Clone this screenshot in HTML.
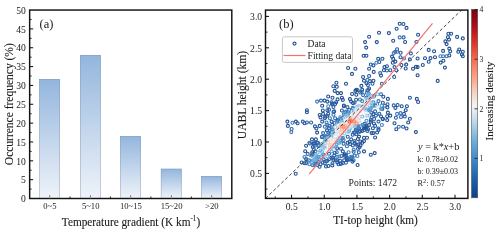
<!DOCTYPE html><html><head><meta charset="utf-8"><style>html,body{margin:0;padding:0;background:#fff;overflow:hidden}svg{display:block;will-change:transform}text{font-family:"Liberation Serif",serif;fill:#1a1a1a}.s{stroke:#1a1a1a;stroke-width:0.1px}</style></head><body>
<svg width="500" height="234" viewBox="0 0 500 234">
<defs>
<linearGradient id="bg" x1="0" y1="0" x2="0" y2="1"><stop offset="0" stop-color="#93b6dd"/><stop offset="1" stop-color="#eff3fa"/></linearGradient>
<linearGradient id="bs" x1="0" y1="0" x2="0" y2="1"><stop offset="0" stop-color="#7896bd"/><stop offset="1" stop-color="#b4bac4"/></linearGradient>
<linearGradient id="cb" x1="0" y1="1" x2="0" y2="0"><stop offset="0.000" stop-color="#0b3f8c"/><stop offset="0.094" stop-color="#1a5fab"/><stop offset="0.200" stop-color="#3a88cc"/><stop offset="0.300" stop-color="#6aaedc"/><stop offset="0.370" stop-color="#a0cce6"/><stop offset="0.430" stop-color="#cfe1f0"/><stop offset="0.490" stop-color="#f4f2f2"/><stop offset="0.560" stop-color="#f9d0c0"/><stop offset="0.630" stop-color="#fba888"/><stop offset="0.710" stop-color="#f87a5a"/><stop offset="0.785" stop-color="#ec4a35"/><stop offset="0.860" stop-color="#d0201f"/><stop offset="0.930" stop-color="#a00a18"/><stop offset="1.000" stop-color="#780010"/></linearGradient>
</defs>
<rect x="39.60" y="79.40" width="20.05" height="119.10" fill="url(#bg)" stroke="url(#bs)" stroke-width="0.7"/>
<rect x="80.40" y="55.30" width="19.95" height="143.20" fill="url(#bg)" stroke="url(#bs)" stroke-width="0.7"/>
<rect x="120.50" y="136.45" width="20.05" height="62.05" fill="url(#bg)" stroke="url(#bs)" stroke-width="0.7"/>
<rect x="161.20" y="169.05" width="20.10" height="29.45" fill="url(#bg)" stroke="url(#bs)" stroke-width="0.7"/>
<rect x="201.50" y="176.45" width="20.05" height="22.05" fill="url(#bg)" stroke="url(#bs)" stroke-width="0.7"/>
<rect x="29.65" y="10.05" width="202.15" height="188.45" fill="none" stroke="#111" stroke-width="1.45"/>
<text x="25.9" y="202.25" font-size="9.60" text-anchor="end">0</text>
<line x1="29.65" y1="189.08" x2="31.65" y2="189.08" stroke="#111" stroke-width="0.9"/>
<line x1="29.65" y1="179.66" x2="33.15" y2="179.66" stroke="#111" stroke-width="1.05"/>
<text x="25.9" y="183.41" font-size="9.60" text-anchor="end">5</text>
<line x1="29.65" y1="170.23" x2="31.65" y2="170.23" stroke="#111" stroke-width="0.9"/>
<line x1="29.65" y1="160.81" x2="33.15" y2="160.81" stroke="#111" stroke-width="1.05"/>
<text x="25.9" y="164.56" font-size="9.60" text-anchor="end">10</text>
<line x1="29.65" y1="151.39" x2="31.65" y2="151.39" stroke="#111" stroke-width="0.9"/>
<line x1="29.65" y1="141.97" x2="33.15" y2="141.97" stroke="#111" stroke-width="1.05"/>
<text x="25.9" y="145.72" font-size="9.60" text-anchor="end">15</text>
<line x1="29.65" y1="132.54" x2="31.65" y2="132.54" stroke="#111" stroke-width="0.9"/>
<line x1="29.65" y1="123.12" x2="33.15" y2="123.12" stroke="#111" stroke-width="1.05"/>
<text x="25.9" y="126.87" font-size="9.60" text-anchor="end">20</text>
<line x1="29.65" y1="113.70" x2="31.65" y2="113.70" stroke="#111" stroke-width="0.9"/>
<line x1="29.65" y1="104.28" x2="33.15" y2="104.28" stroke="#111" stroke-width="1.05"/>
<text x="25.9" y="108.03" font-size="9.60" text-anchor="end">25</text>
<line x1="29.65" y1="94.85" x2="31.65" y2="94.85" stroke="#111" stroke-width="0.9"/>
<line x1="29.65" y1="85.43" x2="33.15" y2="85.43" stroke="#111" stroke-width="1.05"/>
<text x="25.9" y="89.18" font-size="9.60" text-anchor="end">30</text>
<line x1="29.65" y1="76.01" x2="31.65" y2="76.01" stroke="#111" stroke-width="0.9"/>
<line x1="29.65" y1="66.59" x2="33.15" y2="66.59" stroke="#111" stroke-width="1.05"/>
<text x="25.9" y="70.34" font-size="9.60" text-anchor="end">35</text>
<line x1="29.65" y1="57.16" x2="31.65" y2="57.16" stroke="#111" stroke-width="0.9"/>
<line x1="29.65" y1="47.74" x2="33.15" y2="47.74" stroke="#111" stroke-width="1.05"/>
<text x="25.9" y="51.49" font-size="9.60" text-anchor="end">40</text>
<line x1="29.65" y1="38.32" x2="31.65" y2="38.32" stroke="#111" stroke-width="0.9"/>
<line x1="29.65" y1="28.90" x2="33.15" y2="28.90" stroke="#111" stroke-width="1.05"/>
<text x="25.9" y="32.65" font-size="9.60" text-anchor="end">45</text>
<line x1="29.65" y1="19.47" x2="31.65" y2="19.47" stroke="#111" stroke-width="0.9"/>
<text x="25.9" y="13.80" font-size="9.60" text-anchor="end">50</text>
<line x1="49.73" y1="198.50" x2="49.73" y2="195.00" stroke="#808080" stroke-width="0.95"/>
<text x="49.92" y="208.7" font-size="8.6" text-anchor="middle">0~5</text>
<line x1="70.00" y1="198.50" x2="70.00" y2="196.50" stroke="#111" stroke-width="0.9"/>
<line x1="90.47" y1="198.50" x2="90.47" y2="195.00" stroke="#808080" stroke-width="0.95"/>
<text x="90.67" y="208.7" font-size="8.6" text-anchor="middle">5~10</text>
<line x1="110.45" y1="198.50" x2="110.45" y2="196.50" stroke="#111" stroke-width="0.9"/>
<line x1="130.62" y1="198.50" x2="130.62" y2="195.00" stroke="#808080" stroke-width="0.95"/>
<text x="130.83" y="208.7" font-size="8.6" text-anchor="middle">10~15</text>
<line x1="150.89" y1="198.50" x2="150.89" y2="196.50" stroke="#111" stroke-width="0.9"/>
<line x1="171.35" y1="198.50" x2="171.35" y2="195.00" stroke="#808080" stroke-width="0.95"/>
<text x="171.55" y="208.7" font-size="8.6" text-anchor="middle">15~20</text>
<line x1="191.39" y1="198.50" x2="191.39" y2="196.50" stroke="#111" stroke-width="0.9"/>
<line x1="211.62" y1="198.50" x2="211.62" y2="195.00" stroke="#808080" stroke-width="0.95"/>
<text x="211.83" y="208.7" font-size="8.6" text-anchor="middle">&gt;20</text>
<text transform="translate(39.5,28.4) scale(1,1.08)" font-size="12.5">(a)</text>
<text class="s" transform="translate(13.1,104.2) rotate(-90)" font-size="11.5" text-anchor="middle">Occurrence frequency (%)</text>
<text class="s" transform="translate(131,226) scale(1,1.08)" font-size="11.3" text-anchor="middle">Temperature gradient (K km<tspan font-size="7.2" dy="-4.2">-1</tspan><tspan dy="4.2">)</tspan></text>
<circle cx="306.1" cy="145.7" r="1.5" fill="none" stroke="#1f4f91" stroke-width="1.1"/>
<circle cx="399.7" cy="23.7" r="1.5" fill="none" stroke="#1f4f91" stroke-width="1.1"/>
<circle cx="406.5" cy="27.9" r="1.5" fill="none" stroke="#1f4f91" stroke-width="1.1"/>
<circle cx="348.1" cy="68.0" r="1.5" fill="none" stroke="#1f4f91" stroke-width="1.1"/>
<circle cx="373.4" cy="65.4" r="1.5" fill="none" stroke="#1f4f91" stroke-width="1.1"/>
<circle cx="336.8" cy="86.8" r="1.5" fill="none" stroke="#1f4f91" stroke-width="1.1"/>
<circle cx="305.2" cy="151.3" r="1.5" fill="none" stroke="#1f4f91" stroke-width="1.1"/>
<circle cx="360.1" cy="131.5" r="1.5" fill="none" stroke="#1f4f91" stroke-width="1.1"/>
<circle cx="363.6" cy="55.7" r="1.5" fill="none" stroke="#1f4f91" stroke-width="1.1"/>
<circle cx="418.1" cy="34.8" r="1.5" fill="none" stroke="#1f4f91" stroke-width="1.1"/>
<circle cx="382.4" cy="58.7" r="1.5" fill="none" stroke="#1f4f91" stroke-width="1.1"/>
<circle cx="378.2" cy="58.7" r="1.5" fill="none" stroke="#1f4f91" stroke-width="1.1"/>
<circle cx="393.2" cy="40.8" r="1.5" fill="none" stroke="#1f4f91" stroke-width="1.1"/>
<circle cx="388.9" cy="33.1" r="1.5" fill="none" stroke="#1f4f91" stroke-width="1.1"/>
<circle cx="446.6" cy="44.1" r="1.5" fill="none" stroke="#1f4f91" stroke-width="1.1"/>
<circle cx="445.4" cy="41.4" r="1.5" fill="none" stroke="#1f4f91" stroke-width="1.1"/>
<circle cx="364.0" cy="141.1" r="1.5" fill="none" stroke="#1f4f91" stroke-width="1.1"/>
<circle cx="364.0" cy="151.4" r="1.5" fill="none" stroke="#1f4f91" stroke-width="1.1"/>
<circle cx="371.6" cy="133.1" r="1.5" fill="none" stroke="#1f4f91" stroke-width="1.1"/>
<circle cx="370.8" cy="154.8" r="1.5" fill="none" stroke="#1f4f91" stroke-width="1.1"/>
<circle cx="337.6" cy="93.1" r="1.5" fill="none" stroke="#1f4f91" stroke-width="1.1"/>
<circle cx="328.2" cy="96.5" r="1.5" fill="none" stroke="#1f4f91" stroke-width="1.1"/>
<circle cx="332.5" cy="97.7" r="1.5" fill="none" stroke="#1f4f91" stroke-width="1.1"/>
<circle cx="334.7" cy="90.9" r="1.5" fill="none" stroke="#1f4f91" stroke-width="1.1"/>
<circle cx="440.7" cy="62.6" r="1.5" fill="none" stroke="#1f4f91" stroke-width="1.1"/>
<circle cx="364.0" cy="137.7" r="1.5" fill="none" stroke="#1f4f91" stroke-width="1.1"/>
<circle cx="328.3" cy="166.0" r="1.5" fill="none" stroke="#1f4f91" stroke-width="1.1"/>
<circle cx="317.1" cy="132.6" r="1.5" fill="none" stroke="#1f4f91" stroke-width="1.1"/>
<circle cx="319.7" cy="125.9" r="1.5" fill="none" stroke="#1f4f91" stroke-width="1.1"/>
<circle cx="343.9" cy="106.2" r="1.5" fill="none" stroke="#1f4f91" stroke-width="1.1"/>
<circle cx="322.2" cy="105.7" r="1.5" fill="none" stroke="#1f4f91" stroke-width="1.1"/>
<circle cx="341.9" cy="97.7" r="1.5" fill="none" stroke="#1f4f91" stroke-width="1.1"/>
<circle cx="344.2" cy="160.3" r="1.5" fill="none" stroke="#1f4f91" stroke-width="1.1"/>
<circle cx="347.6" cy="142.8" r="1.5" fill="none" stroke="#1f4f91" stroke-width="1.1"/>
<circle cx="387.9" cy="112.6" r="1.5" fill="none" stroke="#1f4f91" stroke-width="1.1"/>
<circle cx="406.5" cy="128.5" r="1.5" fill="none" stroke="#1f4f91" stroke-width="1.1"/>
<circle cx="416.8" cy="98.9" r="1.5" fill="none" stroke="#1f4f91" stroke-width="1.1"/>
<circle cx="287.9" cy="125.9" r="1.5" fill="none" stroke="#1f4f91" stroke-width="1.1"/>
<circle cx="415.9" cy="132.1" r="1.5" fill="none" stroke="#1f4f91" stroke-width="1.1"/>
<circle cx="349.9" cy="99.1" r="1.5" fill="none" stroke="#1f4f91" stroke-width="1.1"/>
<circle cx="387.9" cy="98.9" r="1.5" fill="none" stroke="#1f4f91" stroke-width="1.1"/>
<circle cx="370.9" cy="121.6" r="1.5" fill="none" stroke="#1f4f91" stroke-width="1.1"/>
<circle cx="357.6" cy="165.0" r="1.5" fill="none" stroke="#1f4f91" stroke-width="1.1"/>
<circle cx="394.5" cy="123.3" r="1.5" fill="none" stroke="#1f4f91" stroke-width="1.1"/>
<circle cx="390.3" cy="115.6" r="1.5" fill="none" stroke="#1f4f91" stroke-width="1.1"/>
<circle cx="408.2" cy="122.5" r="1.5" fill="none" stroke="#1f4f91" stroke-width="1.1"/>
<circle cx="406.9" cy="106.2" r="1.5" fill="none" stroke="#1f4f91" stroke-width="1.1"/>
<circle cx="405.7" cy="110.2" r="1.5" fill="none" stroke="#1f4f91" stroke-width="1.1"/>
<circle cx="344.8" cy="154.3" r="1.5" fill="none" stroke="#1f4f91" stroke-width="1.1"/>
<circle cx="355.4" cy="90.9" r="1.5" fill="none" stroke="#1f4f91" stroke-width="1.1"/>
<circle cx="344.5" cy="155.6" r="1.5" fill="none" stroke="#1f4f91" stroke-width="1.1"/>
<circle cx="356.3" cy="94.8" r="1.5" fill="none" stroke="#1f4f91" stroke-width="1.1"/>
<circle cx="362.2" cy="142.7" r="1.5" fill="none" stroke="#1f4f91" stroke-width="1.1"/>
<circle cx="352.1" cy="94.0" r="1.5" fill="none" stroke="#1f4f91" stroke-width="1.1"/>
<circle cx="382.7" cy="118.7" r="1.5" fill="none" stroke="#1f4f91" stroke-width="1.1"/>
<circle cx="354.6" cy="143.0" r="1.5" fill="none" stroke="#1f4f91" stroke-width="1.1"/>
<circle cx="413.0" cy="68.8" r="1.5" fill="none" stroke="#1f4f91" stroke-width="1.1"/>
<circle cx="415.9" cy="66.8" r="1.5" fill="none" stroke="#1f4f91" stroke-width="1.1"/>
<circle cx="358.9" cy="131.7" r="1.5" fill="none" stroke="#1f4f91" stroke-width="1.1"/>
<circle cx="417.6" cy="75.3" r="1.5" fill="none" stroke="#1f4f91" stroke-width="1.1"/>
<circle cx="364.0" cy="80.8" r="1.5" fill="none" stroke="#1f4f91" stroke-width="1.1"/>
<circle cx="425.0" cy="58.2" r="1.5" fill="none" stroke="#1f4f91" stroke-width="1.1"/>
<circle cx="417.6" cy="58.5" r="1.5" fill="none" stroke="#1f4f91" stroke-width="1.1"/>
<circle cx="332.0" cy="103.5" r="1.5" fill="none" stroke="#1f4f91" stroke-width="1.1"/>
<circle cx="373.4" cy="80.8" r="1.5" fill="none" stroke="#1f4f91" stroke-width="1.1"/>
<circle cx="361.4" cy="85.9" r="1.5" fill="none" stroke="#1f4f91" stroke-width="1.1"/>
<circle cx="373.4" cy="133.0" r="1.5" fill="none" stroke="#1f4f91" stroke-width="1.1"/>
<circle cx="356.3" cy="89.7" r="1.5" fill="none" stroke="#1f4f91" stroke-width="1.1"/>
<circle cx="357.6" cy="90.2" r="1.5" fill="none" stroke="#1f4f91" stroke-width="1.1"/>
<circle cx="449.3" cy="48.6" r="1.5" fill="none" stroke="#1f4f91" stroke-width="1.1"/>
<circle cx="434.1" cy="51.3" r="1.5" fill="none" stroke="#1f4f91" stroke-width="1.1"/>
<circle cx="369.9" cy="81.1" r="1.5" fill="none" stroke="#1f4f91" stroke-width="1.1"/>
<circle cx="459.2" cy="49.5" r="1.5" fill="none" stroke="#1f4f91" stroke-width="1.1"/>
<circle cx="458.3" cy="51.7" r="1.5" fill="none" stroke="#1f4f91" stroke-width="1.1"/>
<circle cx="462.8" cy="51.7" r="1.5" fill="none" stroke="#1f4f91" stroke-width="1.1"/>
<circle cx="373.9" cy="123.5" r="1.5" fill="none" stroke="#1f4f91" stroke-width="1.1"/>
<circle cx="329.0" cy="159.3" r="1.5" fill="none" stroke="#1f4f91" stroke-width="1.1"/>
<circle cx="376.8" cy="42.1" r="1.5" fill="none" stroke="#1f4f91" stroke-width="1.1"/>
<circle cx="395.4" cy="61.6" r="1.5" fill="none" stroke="#204f91" stroke-width="1.1"/>
<circle cx="396.3" cy="129.3" r="1.5" fill="none" stroke="#204f91" stroke-width="1.1"/>
<circle cx="321.9" cy="136.9" r="1.5" fill="none" stroke="#204f91" stroke-width="1.1"/>
<circle cx="341.0" cy="93.1" r="1.5" fill="none" stroke="#204f91" stroke-width="1.1"/>
<circle cx="443.4" cy="60.8" r="1.5" fill="none" stroke="#204f91" stroke-width="1.1"/>
<circle cx="462.8" cy="38.4" r="1.5" fill="none" stroke="#204f91" stroke-width="1.1"/>
<circle cx="417.6" cy="67.1" r="1.5" fill="none" stroke="#204f91" stroke-width="1.1"/>
<circle cx="320.5" cy="117.4" r="1.5" fill="none" stroke="#204f91" stroke-width="1.1"/>
<circle cx="373.3" cy="114.1" r="1.5" fill="none" stroke="#204f91" stroke-width="1.1"/>
<circle cx="377.1" cy="132.5" r="1.5" fill="none" stroke="#204f91" stroke-width="1.1"/>
<circle cx="366.4" cy="55.7" r="1.5" fill="none" stroke="#204f91" stroke-width="1.1"/>
<circle cx="327.4" cy="101.6" r="1.5" fill="none" stroke="#204f91" stroke-width="1.1"/>
<circle cx="297.6" cy="123.3" r="1.5" fill="none" stroke="#204f91" stroke-width="1.1"/>
<circle cx="448.4" cy="33.7" r="1.5" fill="none" stroke="#204f92" stroke-width="1.1"/>
<circle cx="382.8" cy="119.1" r="1.5" fill="none" stroke="#204f92" stroke-width="1.1"/>
<circle cx="353.0" cy="103.1" r="1.5" fill="none" stroke="#205092" stroke-width="1.1"/>
<circle cx="422.8" cy="65.0" r="1.5" fill="none" stroke="#205092" stroke-width="1.1"/>
<circle cx="387.2" cy="116.2" r="1.5" fill="none" stroke="#205092" stroke-width="1.1"/>
<circle cx="374.7" cy="153.1" r="1.5" fill="none" stroke="#205092" stroke-width="1.1"/>
<circle cx="461.9" cy="54.5" r="1.5" fill="none" stroke="#205092" stroke-width="1.1"/>
<circle cx="392.8" cy="62.8" r="1.5" fill="none" stroke="#205092" stroke-width="1.1"/>
<circle cx="447.9" cy="37.3" r="1.5" fill="none" stroke="#205092" stroke-width="1.1"/>
<circle cx="443.1" cy="50.9" r="1.5" fill="none" stroke="#205092" stroke-width="1.1"/>
<circle cx="435.0" cy="57.2" r="1.5" fill="none" stroke="#205092" stroke-width="1.1"/>
<circle cx="343.9" cy="105.5" r="1.5" fill="none" stroke="#205092" stroke-width="1.1"/>
<circle cx="384.5" cy="67.1" r="1.5" fill="none" stroke="#205092" stroke-width="1.1"/>
<circle cx="363.1" cy="77.0" r="1.5" fill="none" stroke="#205092" stroke-width="1.1"/>
<circle cx="287.4" cy="121.6" r="1.5" fill="none" stroke="#205092" stroke-width="1.1"/>
<circle cx="367.0" cy="137.8" r="1.5" fill="none" stroke="#205092" stroke-width="1.1"/>
<circle cx="342.8" cy="99.9" r="1.5" fill="none" stroke="#205092" stroke-width="1.1"/>
<circle cx="449.3" cy="55.4" r="1.5" fill="none" stroke="#205093" stroke-width="1.1"/>
<circle cx="406.2" cy="64.5" r="1.5" fill="none" stroke="#205093" stroke-width="1.1"/>
<circle cx="381.0" cy="116.5" r="1.5" fill="none" stroke="#205093" stroke-width="1.1"/>
<circle cx="403.4" cy="24.0" r="1.5" fill="none" stroke="#205093" stroke-width="1.1"/>
<circle cx="312.0" cy="139.4" r="1.5" fill="none" stroke="#205093" stroke-width="1.1"/>
<circle cx="360.4" cy="141.5" r="1.5" fill="none" stroke="#205093" stroke-width="1.1"/>
<circle cx="333.1" cy="157.7" r="1.5" fill="none" stroke="#205093" stroke-width="1.1"/>
<circle cx="401.7" cy="106.2" r="1.5" fill="none" stroke="#205093" stroke-width="1.1"/>
<circle cx="416.4" cy="42.0" r="1.5" fill="none" stroke="#205093" stroke-width="1.1"/>
<circle cx="346.0" cy="83.8" r="1.5" fill="none" stroke="#205093" stroke-width="1.1"/>
<circle cx="379.0" cy="32.7" r="1.5" fill="none" stroke="#205093" stroke-width="1.1"/>
<circle cx="409.9" cy="97.7" r="1.5" fill="none" stroke="#205093" stroke-width="1.1"/>
<circle cx="395.4" cy="107.9" r="1.5" fill="none" stroke="#205193" stroke-width="1.1"/>
<circle cx="387.4" cy="107.4" r="1.5" fill="none" stroke="#205193" stroke-width="1.1"/>
<circle cx="359.0" cy="136.6" r="1.5" fill="none" stroke="#205193" stroke-width="1.1"/>
<circle cx="405.1" cy="42.0" r="1.5" fill="none" stroke="#205193" stroke-width="1.1"/>
<circle cx="315.3" cy="143.4" r="1.5" fill="none" stroke="#205193" stroke-width="1.1"/>
<circle cx="355.4" cy="68.8" r="1.5" fill="none" stroke="#205194" stroke-width="1.1"/>
<circle cx="322.8" cy="110.5" r="1.5" fill="none" stroke="#215194" stroke-width="1.1"/>
<circle cx="364.3" cy="125.9" r="1.5" fill="none" stroke="#215194" stroke-width="1.1"/>
<circle cx="437.7" cy="80.9" r="1.5" fill="none" stroke="#215194" stroke-width="1.1"/>
<circle cx="351.1" cy="101.6" r="1.5" fill="none" stroke="#215194" stroke-width="1.1"/>
<circle cx="396.6" cy="28.8" r="1.5" fill="none" stroke="#215194" stroke-width="1.1"/>
<circle cx="428.7" cy="49.9" r="1.5" fill="none" stroke="#215194" stroke-width="1.1"/>
<circle cx="428.7" cy="61.7" r="1.5" fill="none" stroke="#215194" stroke-width="1.1"/>
<circle cx="349.6" cy="141.8" r="1.5" fill="none" stroke="#215194" stroke-width="1.1"/>
<circle cx="457.1" cy="36.9" r="1.5" fill="none" stroke="#215194" stroke-width="1.1"/>
<circle cx="352.0" cy="73.9" r="1.5" fill="none" stroke="#215194" stroke-width="1.1"/>
<circle cx="327.0" cy="130.4" r="1.5" fill="none" stroke="#215194" stroke-width="1.1"/>
<circle cx="392.0" cy="56.6" r="1.5" fill="none" stroke="#215194" stroke-width="1.1"/>
<circle cx="360.5" cy="145.4" r="1.5" fill="none" stroke="#215194" stroke-width="1.1"/>
<circle cx="444.9" cy="67.6" r="1.5" fill="none" stroke="#215194" stroke-width="1.1"/>
<circle cx="350.1" cy="144.0" r="1.5" fill="none" stroke="#215194" stroke-width="1.1"/>
<circle cx="315.0" cy="126.4" r="1.5" fill="none" stroke="#215294" stroke-width="1.1"/>
<circle cx="366.2" cy="47.6" r="1.5" fill="none" stroke="#215294" stroke-width="1.1"/>
<circle cx="373.7" cy="71.9" r="1.5" fill="none" stroke="#215295" stroke-width="1.1"/>
<circle cx="450.2" cy="51.3" r="1.5" fill="none" stroke="#215295" stroke-width="1.1"/>
<circle cx="462.8" cy="56.3" r="1.5" fill="none" stroke="#215295" stroke-width="1.1"/>
<circle cx="323.1" cy="113.9" r="1.5" fill="none" stroke="#215295" stroke-width="1.1"/>
<circle cx="449.0" cy="39.6" r="1.5" fill="none" stroke="#215295" stroke-width="1.1"/>
<circle cx="400.5" cy="57.2" r="1.5" fill="none" stroke="#215295" stroke-width="1.1"/>
<circle cx="362.2" cy="89.7" r="1.5" fill="none" stroke="#215295" stroke-width="1.1"/>
<circle cx="366.5" cy="83.3" r="1.5" fill="none" stroke="#215295" stroke-width="1.1"/>
<circle cx="333.4" cy="159.9" r="1.5" fill="none" stroke="#215295" stroke-width="1.1"/>
<circle cx="397.6" cy="105.0" r="1.5" fill="none" stroke="#215295" stroke-width="1.1"/>
<circle cx="379.2" cy="113.7" r="1.5" fill="none" stroke="#215295" stroke-width="1.1"/>
<circle cx="383.3" cy="96.8" r="1.5" fill="none" stroke="#215295" stroke-width="1.1"/>
<circle cx="418.1" cy="102.0" r="1.5" fill="none" stroke="#215295" stroke-width="1.1"/>
<circle cx="304.5" cy="123.3" r="1.5" fill="none" stroke="#215296" stroke-width="1.1"/>
<circle cx="325.3" cy="116.7" r="1.5" fill="none" stroke="#215396" stroke-width="1.1"/>
<circle cx="409.9" cy="118.7" r="1.5" fill="none" stroke="#215396" stroke-width="1.1"/>
<circle cx="369.0" cy="125.0" r="1.5" fill="none" stroke="#215396" stroke-width="1.1"/>
<circle cx="332.2" cy="104.2" r="1.5" fill="none" stroke="#215396" stroke-width="1.1"/>
<circle cx="401.4" cy="65.0" r="1.5" fill="none" stroke="#215396" stroke-width="1.1"/>
<circle cx="451.1" cy="33.7" r="1.5" fill="none" stroke="#215396" stroke-width="1.1"/>
<circle cx="369.1" cy="68.8" r="1.5" fill="none" stroke="#215396" stroke-width="1.1"/>
<circle cx="375.1" cy="137.5" r="1.5" fill="none" stroke="#215396" stroke-width="1.1"/>
<circle cx="295.9" cy="121.6" r="1.5" fill="none" stroke="#215396" stroke-width="1.1"/>
<circle cx="357.9" cy="139.0" r="1.5" fill="none" stroke="#215396" stroke-width="1.1"/>
<circle cx="336.4" cy="82.8" r="1.5" fill="none" stroke="#215396" stroke-width="1.1"/>
<circle cx="306.9" cy="110.2" r="1.5" fill="none" stroke="#225396" stroke-width="1.1"/>
<circle cx="393.2" cy="58.9" r="1.5" fill="none" stroke="#225397" stroke-width="1.1"/>
<circle cx="340.8" cy="163.7" r="1.5" fill="none" stroke="#225397" stroke-width="1.1"/>
<circle cx="364.1" cy="130.0" r="1.5" fill="none" stroke="#225397" stroke-width="1.1"/>
<circle cx="369.1" cy="36.8" r="1.5" fill="none" stroke="#225397" stroke-width="1.1"/>
<circle cx="352.7" cy="134.8" r="1.5" fill="none" stroke="#225397" stroke-width="1.1"/>
<circle cx="381.0" cy="75.6" r="1.5" fill="none" stroke="#225397" stroke-width="1.1"/>
<circle cx="387.2" cy="120.1" r="1.5" fill="none" stroke="#225397" stroke-width="1.1"/>
<circle cx="319.7" cy="115.0" r="1.5" fill="none" stroke="#225397" stroke-width="1.1"/>
<circle cx="364.7" cy="123.8" r="1.5" fill="none" stroke="#225397" stroke-width="1.1"/>
<circle cx="310.0" cy="143.5" r="1.5" fill="none" stroke="#225497" stroke-width="1.1"/>
<circle cx="323.7" cy="159.4" r="1.5" fill="none" stroke="#225497" stroke-width="1.1"/>
<circle cx="365.1" cy="42.1" r="1.5" fill="none" stroke="#225497" stroke-width="1.1"/>
<circle cx="327.4" cy="110.3" r="1.5" fill="none" stroke="#225497" stroke-width="1.1"/>
<circle cx="327.1" cy="115.8" r="1.5" fill="none" stroke="#225497" stroke-width="1.1"/>
<circle cx="306.0" cy="159.1" r="1.5" fill="none" stroke="#225497" stroke-width="1.1"/>
<circle cx="342.8" cy="151.4" r="1.5" fill="none" stroke="#225497" stroke-width="1.1"/>
<circle cx="351.6" cy="157.9" r="1.5" fill="none" stroke="#225497" stroke-width="1.1"/>
<circle cx="365.7" cy="128.1" r="1.5" fill="none" stroke="#225498" stroke-width="1.1"/>
<circle cx="404.8" cy="116.5" r="1.5" fill="none" stroke="#225498" stroke-width="1.1"/>
<circle cx="315.9" cy="139.4" r="1.5" fill="none" stroke="#225498" stroke-width="1.1"/>
<circle cx="405.7" cy="68.5" r="1.5" fill="none" stroke="#225498" stroke-width="1.1"/>
<circle cx="369.1" cy="76.0" r="1.5" fill="none" stroke="#225498" stroke-width="1.1"/>
<circle cx="340.7" cy="163.6" r="1.5" fill="none" stroke="#225498" stroke-width="1.1"/>
<circle cx="346.7" cy="159.1" r="1.5" fill="none" stroke="#225498" stroke-width="1.1"/>
<circle cx="400.6" cy="52.7" r="1.5" fill="none" stroke="#225599" stroke-width="1.1"/>
<circle cx="332.3" cy="165.4" r="1.5" fill="none" stroke="#225599" stroke-width="1.1"/>
<circle cx="409.9" cy="59.4" r="1.5" fill="none" stroke="#225599" stroke-width="1.1"/>
<circle cx="338.5" cy="164.2" r="1.5" fill="none" stroke="#225599" stroke-width="1.1"/>
<circle cx="337.6" cy="99.4" r="1.5" fill="none" stroke="#225599" stroke-width="1.1"/>
<circle cx="365.0" cy="127.9" r="1.5" fill="none" stroke="#225599" stroke-width="1.1"/>
<circle cx="304.5" cy="163.3" r="1.5" fill="none" stroke="#225599" stroke-width="1.1"/>
<circle cx="359.5" cy="147.3" r="1.5" fill="none" stroke="#235599" stroke-width="1.1"/>
<circle cx="358.0" cy="144.5" r="1.5" fill="none" stroke="#235599" stroke-width="1.1"/>
<circle cx="356.4" cy="144.7" r="1.5" fill="none" stroke="#235599" stroke-width="1.1"/>
<circle cx="324.5" cy="100.6" r="1.5" fill="none" stroke="#235599" stroke-width="1.1"/>
<circle cx="312.8" cy="147.1" r="1.5" fill="none" stroke="#235599" stroke-width="1.1"/>
<circle cx="366.1" cy="126.0" r="1.5" fill="none" stroke="#23559a" stroke-width="1.1"/>
<circle cx="336.1" cy="102.2" r="1.5" fill="none" stroke="#23559a" stroke-width="1.1"/>
<circle cx="382.3" cy="108.9" r="1.5" fill="none" stroke="#23569a" stroke-width="1.1"/>
<circle cx="374.1" cy="119.0" r="1.5" fill="none" stroke="#23569a" stroke-width="1.1"/>
<circle cx="378.5" cy="130.0" r="1.5" fill="none" stroke="#23569a" stroke-width="1.1"/>
<circle cx="335.2" cy="103.9" r="1.5" fill="none" stroke="#23569b" stroke-width="1.1"/>
<circle cx="360.3" cy="92.5" r="1.5" fill="none" stroke="#23569b" stroke-width="1.1"/>
<circle cx="394.5" cy="67.1" r="1.5" fill="none" stroke="#23569b" stroke-width="1.1"/>
<circle cx="390.3" cy="70.2" r="1.5" fill="none" stroke="#23569b" stroke-width="1.1"/>
<circle cx="295.7" cy="173.7" r="1.5" fill="none" stroke="#23569b" stroke-width="1.1"/>
<circle cx="352.5" cy="161.6" r="1.5" fill="none" stroke="#23569b" stroke-width="1.1"/>
<circle cx="363.6" cy="127.6" r="1.5" fill="none" stroke="#23569b" stroke-width="1.1"/>
<circle cx="386.9" cy="66.2" r="1.5" fill="none" stroke="#23569b" stroke-width="1.1"/>
<circle cx="366.7" cy="127.2" r="1.5" fill="none" stroke="#23569b" stroke-width="1.1"/>
<circle cx="372.9" cy="128.2" r="1.5" fill="none" stroke="#23569b" stroke-width="1.1"/>
<circle cx="301.6" cy="162.5" r="1.5" fill="none" stroke="#23579b" stroke-width="1.1"/>
<circle cx="383.9" cy="70.2" r="1.5" fill="none" stroke="#23579b" stroke-width="1.1"/>
<circle cx="314.1" cy="143.6" r="1.5" fill="none" stroke="#23579b" stroke-width="1.1"/>
<circle cx="367.9" cy="85.0" r="1.5" fill="none" stroke="#23579c" stroke-width="1.1"/>
<circle cx="354.7" cy="132.7" r="1.5" fill="none" stroke="#24579c" stroke-width="1.1"/>
<circle cx="333.5" cy="112.0" r="1.5" fill="none" stroke="#24579c" stroke-width="1.1"/>
<circle cx="430.5" cy="58.1" r="1.5" fill="none" stroke="#24579c" stroke-width="1.1"/>
<circle cx="326.5" cy="161.3" r="1.5" fill="none" stroke="#24579c" stroke-width="1.1"/>
<circle cx="382.8" cy="102.8" r="1.5" fill="none" stroke="#24589d" stroke-width="1.1"/>
<circle cx="337.1" cy="148.4" r="1.5" fill="none" stroke="#24589d" stroke-width="1.1"/>
<circle cx="332.2" cy="124.7" r="1.5" fill="none" stroke="#24589d" stroke-width="1.1"/>
<circle cx="386.9" cy="70.5" r="1.5" fill="none" stroke="#24589d" stroke-width="1.1"/>
<circle cx="315.4" cy="151.4" r="1.5" fill="none" stroke="#24589e" stroke-width="1.1"/>
<circle cx="396.3" cy="70.2" r="1.5" fill="none" stroke="#24589e" stroke-width="1.1"/>
<circle cx="410.8" cy="53.4" r="1.5" fill="none" stroke="#24599e" stroke-width="1.1"/>
<circle cx="387.5" cy="104.2" r="1.5" fill="none" stroke="#24599e" stroke-width="1.1"/>
<circle cx="337.4" cy="162.4" r="1.5" fill="none" stroke="#24599e" stroke-width="1.1"/>
<circle cx="369.1" cy="88.5" r="1.5" fill="none" stroke="#25599f" stroke-width="1.1"/>
<circle cx="337.2" cy="160.2" r="1.5" fill="none" stroke="#25599f" stroke-width="1.1"/>
<circle cx="334.8" cy="152.7" r="1.5" fill="none" stroke="#255aa0" stroke-width="1.1"/>
<circle cx="306.2" cy="163.1" r="1.5" fill="none" stroke="#255aa0" stroke-width="1.1"/>
<circle cx="312.2" cy="152.4" r="1.5" fill="none" stroke="#255aa0" stroke-width="1.1"/>
<circle cx="368.2" cy="90.0" r="1.5" fill="none" stroke="#255aa0" stroke-width="1.1"/>
<circle cx="319.6" cy="166.7" r="1.5" fill="none" stroke="#255ba1" stroke-width="1.1"/>
<circle cx="395.3" cy="51.7" r="1.5" fill="none" stroke="#265ba1" stroke-width="1.1"/>
<circle cx="352.8" cy="145.4" r="1.5" fill="none" stroke="#265ba1" stroke-width="1.1"/>
<circle cx="324.8" cy="118.2" r="1.5" fill="none" stroke="#265ba1" stroke-width="1.1"/>
<circle cx="358.0" cy="148.8" r="1.5" fill="none" stroke="#265ba1" stroke-width="1.1"/>
<circle cx="322.2" cy="121.6" r="1.5" fill="none" stroke="#265ba1" stroke-width="1.1"/>
<circle cx="353.6" cy="151.7" r="1.5" fill="none" stroke="#265ba1" stroke-width="1.1"/>
<circle cx="306.9" cy="112.2" r="1.5" fill="none" stroke="#265ba1" stroke-width="1.1"/>
<circle cx="313.7" cy="143.3" r="1.5" fill="none" stroke="#265ba1" stroke-width="1.1"/>
<circle cx="404.0" cy="113.9" r="1.5" fill="none" stroke="#265ba1" stroke-width="1.1"/>
<circle cx="378.5" cy="128.5" r="1.5" fill="none" stroke="#265ba1" stroke-width="1.1"/>
<circle cx="369.1" cy="125.0" r="1.5" fill="none" stroke="#265ba1" stroke-width="1.1"/>
<circle cx="368.2" cy="129.3" r="1.5" fill="none" stroke="#265ba1" stroke-width="1.1"/>
<circle cx="335.7" cy="160.3" r="1.5" fill="none" stroke="#265ba1" stroke-width="1.1"/>
<circle cx="379.3" cy="62.0" r="1.5" fill="none" stroke="#265ba1" stroke-width="1.1"/>
<circle cx="356.3" cy="134.3" r="1.5" fill="none" stroke="#265ba1" stroke-width="1.1"/>
<circle cx="370.8" cy="64.5" r="1.5" fill="none" stroke="#265ba1" stroke-width="1.1"/>
<circle cx="375.1" cy="125.9" r="1.5" fill="none" stroke="#265ba1" stroke-width="1.1"/>
<circle cx="320.5" cy="164.2" r="1.5" fill="none" stroke="#265ba1" stroke-width="1.1"/>
<circle cx="403.6" cy="37.4" r="1.5" fill="none" stroke="#265ba1" stroke-width="1.1"/>
<circle cx="375.9" cy="115.6" r="1.5" fill="none" stroke="#265ba1" stroke-width="1.1"/>
<circle cx="403.1" cy="126.8" r="1.5" fill="none" stroke="#265ba1" stroke-width="1.1"/>
<circle cx="346.8" cy="157.7" r="1.5" fill="none" stroke="#265ca1" stroke-width="1.1"/>
<circle cx="333.4" cy="86.2" r="1.5" fill="none" stroke="#265ca2" stroke-width="1.1"/>
<circle cx="349.3" cy="159.4" r="1.5" fill="none" stroke="#265ca2" stroke-width="1.1"/>
<circle cx="356.1" cy="99.7" r="1.5" fill="none" stroke="#265ca2" stroke-width="1.1"/>
<circle cx="314.9" cy="145.8" r="1.5" fill="none" stroke="#265ca2" stroke-width="1.1"/>
<circle cx="349.8" cy="158.7" r="1.5" fill="none" stroke="#265ca2" stroke-width="1.1"/>
<circle cx="334.4" cy="122.8" r="1.5" fill="none" stroke="#265ca2" stroke-width="1.1"/>
<circle cx="326.0" cy="166.5" r="1.5" fill="none" stroke="#265ca2" stroke-width="1.1"/>
<circle cx="371.4" cy="112.7" r="1.5" fill="none" stroke="#275ca2" stroke-width="1.1"/>
<circle cx="341.9" cy="110.5" r="1.5" fill="none" stroke="#275ca2" stroke-width="1.1"/>
<circle cx="329.0" cy="153.8" r="1.5" fill="none" stroke="#275da2" stroke-width="1.1"/>
<circle cx="362.2" cy="130.9" r="1.5" fill="none" stroke="#275da2" stroke-width="1.1"/>
<circle cx="343.6" cy="143.7" r="1.5" fill="none" stroke="#275da3" stroke-width="1.1"/>
<circle cx="331.5" cy="157.6" r="1.5" fill="none" stroke="#275da3" stroke-width="1.1"/>
<circle cx="351.1" cy="139.4" r="1.5" fill="none" stroke="#275da3" stroke-width="1.1"/>
<circle cx="327.3" cy="125.0" r="1.5" fill="none" stroke="#275da3" stroke-width="1.1"/>
<circle cx="397.1" cy="49.3" r="1.5" fill="none" stroke="#275da3" stroke-width="1.1"/>
<circle cx="306.9" cy="122.5" r="1.5" fill="none" stroke="#275da3" stroke-width="1.1"/>
<circle cx="328.2" cy="113.9" r="1.5" fill="none" stroke="#275da3" stroke-width="1.1"/>
<circle cx="358.8" cy="152.2" r="1.5" fill="none" stroke="#275ea3" stroke-width="1.1"/>
<circle cx="316.9" cy="142.8" r="1.5" fill="none" stroke="#285ea3" stroke-width="1.1"/>
<circle cx="316.3" cy="128.5" r="1.5" fill="none" stroke="#285ea3" stroke-width="1.1"/>
<circle cx="331.6" cy="121.6" r="1.5" fill="none" stroke="#285ea3" stroke-width="1.1"/>
<circle cx="353.6" cy="160.3" r="1.5" fill="none" stroke="#285ea4" stroke-width="1.1"/>
<circle cx="291.6" cy="129.0" r="1.5" fill="none" stroke="#285ea4" stroke-width="1.1"/>
<circle cx="341.6" cy="156.0" r="1.5" fill="none" stroke="#285ea4" stroke-width="1.1"/>
<circle cx="329.0" cy="128.1" r="1.5" fill="none" stroke="#285fa4" stroke-width="1.1"/>
<circle cx="340.2" cy="160.8" r="1.5" fill="none" stroke="#295fa5" stroke-width="1.1"/>
<circle cx="343.8" cy="114.0" r="1.5" fill="none" stroke="#295fa5" stroke-width="1.1"/>
<circle cx="342.8" cy="163.3" r="1.5" fill="none" stroke="#295fa5" stroke-width="1.1"/>
<circle cx="346.0" cy="154.9" r="1.5" fill="none" stroke="#2960a5" stroke-width="1.1"/>
<circle cx="334.2" cy="111.4" r="1.5" fill="none" stroke="#2960a5" stroke-width="1.1"/>
<circle cx="395.9" cy="117.7" r="1.5" fill="none" stroke="#2960a5" stroke-width="1.1"/>
<circle cx="372.5" cy="83.8" r="1.5" fill="none" stroke="#2960a5" stroke-width="1.1"/>
<circle cx="329.1" cy="109.7" r="1.5" fill="none" stroke="#2960a5" stroke-width="1.1"/>
<circle cx="355.7" cy="129.8" r="1.5" fill="none" stroke="#2960a6" stroke-width="1.1"/>
<circle cx="331.6" cy="102.3" r="1.5" fill="none" stroke="#2a60a6" stroke-width="1.1"/>
<circle cx="378.5" cy="121.6" r="1.5" fill="none" stroke="#2a61a6" stroke-width="1.1"/>
<circle cx="315.0" cy="163.4" r="1.5" fill="none" stroke="#2a61a6" stroke-width="1.1"/>
<circle cx="370.8" cy="119.9" r="1.5" fill="none" stroke="#2a61a6" stroke-width="1.1"/>
<circle cx="359.1" cy="128.4" r="1.5" fill="none" stroke="#2a61a6" stroke-width="1.1"/>
<circle cx="394.2" cy="77.0" r="1.5" fill="none" stroke="#2a61a6" stroke-width="1.1"/>
<circle cx="337.8" cy="120.0" r="1.5" fill="none" stroke="#2a61a6" stroke-width="1.1"/>
<circle cx="311.1" cy="122.5" r="1.5" fill="none" stroke="#2a61a6" stroke-width="1.1"/>
<circle cx="345.9" cy="162.8" r="1.5" fill="none" stroke="#2a61a6" stroke-width="1.1"/>
<circle cx="347.7" cy="136.8" r="1.5" fill="none" stroke="#2a61a6" stroke-width="1.1"/>
<circle cx="366.5" cy="97.7" r="1.5" fill="none" stroke="#2a61a6" stroke-width="1.1"/>
<circle cx="347.7" cy="159.9" r="1.5" fill="none" stroke="#2a61a7" stroke-width="1.1"/>
<circle cx="367.4" cy="130.9" r="1.5" fill="none" stroke="#2a61a7" stroke-width="1.1"/>
<circle cx="381.0" cy="94.3" r="1.5" fill="none" stroke="#2a62a7" stroke-width="1.1"/>
<circle cx="327.4" cy="160.8" r="1.5" fill="none" stroke="#2a62a7" stroke-width="1.1"/>
<circle cx="375.1" cy="111.4" r="1.5" fill="none" stroke="#2a62a7" stroke-width="1.1"/>
<circle cx="302.8" cy="121.6" r="1.5" fill="none" stroke="#2a62a7" stroke-width="1.1"/>
<circle cx="307.7" cy="153.9" r="1.5" fill="none" stroke="#2b62a8" stroke-width="1.1"/>
<circle cx="384.9" cy="105.7" r="1.5" fill="none" stroke="#2b63a8" stroke-width="1.1"/>
<circle cx="401.0" cy="117.0" r="1.5" fill="none" stroke="#2b63a8" stroke-width="1.1"/>
<circle cx="381.9" cy="83.8" r="1.5" fill="none" stroke="#2b63a8" stroke-width="1.1"/>
<circle cx="333.4" cy="107.1" r="1.5" fill="none" stroke="#2b63a8" stroke-width="1.1"/>
<circle cx="347.4" cy="107.1" r="1.5" fill="none" stroke="#2b63a8" stroke-width="1.1"/>
<circle cx="346.3" cy="111.5" r="1.5" fill="none" stroke="#2c63a9" stroke-width="1.1"/>
<circle cx="318.9" cy="145.4" r="1.5" fill="none" stroke="#2c64a9" stroke-width="1.1"/>
<circle cx="393.7" cy="105.4" r="1.5" fill="none" stroke="#2c64a9" stroke-width="1.1"/>
<circle cx="321.0" cy="100.6" r="1.5" fill="none" stroke="#2c64a9" stroke-width="1.1"/>
<circle cx="371.6" cy="117.4" r="1.5" fill="none" stroke="#2c64a9" stroke-width="1.1"/>
<circle cx="334.2" cy="155.6" r="1.5" fill="none" stroke="#2c64a9" stroke-width="1.1"/>
<circle cx="341.0" cy="148.8" r="1.5" fill="none" stroke="#2c64a9" stroke-width="1.1"/>
<circle cx="337.3" cy="120.6" r="1.5" fill="none" stroke="#2c65aa" stroke-width="1.1"/>
<circle cx="354.5" cy="141.1" r="1.5" fill="none" stroke="#2c65aa" stroke-width="1.1"/>
<circle cx="380.2" cy="73.1" r="1.5" fill="none" stroke="#2d65aa" stroke-width="1.1"/>
<circle cx="322.8" cy="162.6" r="1.5" fill="none" stroke="#2d65aa" stroke-width="1.1"/>
<circle cx="356.5" cy="130.2" r="1.5" fill="none" stroke="#2d65aa" stroke-width="1.1"/>
<circle cx="335.1" cy="118.2" r="1.5" fill="none" stroke="#2d65aa" stroke-width="1.1"/>
<circle cx="323.1" cy="133.1" r="1.5" fill="none" stroke="#2d65aa" stroke-width="1.1"/>
<circle cx="349.2" cy="109.9" r="1.5" fill="none" stroke="#2d65aa" stroke-width="1.1"/>
<circle cx="312.6" cy="154.0" r="1.5" fill="none" stroke="#2d66ab" stroke-width="1.1"/>
<circle cx="332.5" cy="163.3" r="1.5" fill="none" stroke="#2d66ab" stroke-width="1.1"/>
<circle cx="363.1" cy="95.1" r="1.5" fill="none" stroke="#2e66ab" stroke-width="1.1"/>
<circle cx="353.7" cy="132.6" r="1.5" fill="none" stroke="#2e67ac" stroke-width="1.1"/>
<circle cx="313.8" cy="149.0" r="1.5" fill="none" stroke="#2e67ac" stroke-width="1.1"/>
<circle cx="318.0" cy="142.8" r="1.5" fill="none" stroke="#2e67ac" stroke-width="1.1"/>
<circle cx="324.8" cy="163.3" r="1.5" fill="none" stroke="#2f68ac" stroke-width="1.1"/>
<circle cx="328.2" cy="132.6" r="1.5" fill="none" stroke="#2f69ad" stroke-width="1.1"/>
<circle cx="354.5" cy="102.8" r="1.5" fill="none" stroke="#2f69ad" stroke-width="1.1"/>
<circle cx="336.8" cy="152.2" r="1.5" fill="none" stroke="#2f69ad" stroke-width="1.1"/>
<circle cx="322.2" cy="136.8" r="1.5" fill="none" stroke="#306aae" stroke-width="1.1"/>
<circle cx="358.0" cy="129.3" r="1.5" fill="none" stroke="#326cb1" stroke-width="1.1"/>
<circle cx="366.8" cy="92.8" r="1.5" fill="none" stroke="#326db1" stroke-width="1.1"/>
<circle cx="367.3" cy="90.6" r="1.5" fill="none" stroke="#326db1" stroke-width="1.1"/>
<circle cx="345.2" cy="112.3" r="1.5" fill="none" stroke="#336eb2" stroke-width="1.1"/>
<circle cx="317.6" cy="165.1" r="1.5" fill="none" stroke="#336eb2" stroke-width="1.1"/>
<circle cx="375.3" cy="105.6" r="1.5" fill="none" stroke="#346fb3" stroke-width="1.1"/>
<circle cx="360.0" cy="99.5" r="1.5" fill="none" stroke="#346fb3" stroke-width="1.1"/>
<circle cx="361.7" cy="91.6" r="1.5" fill="none" stroke="#3570b4" stroke-width="1.1"/>
<circle cx="378.5" cy="101.1" r="1.5" fill="none" stroke="#3571b4" stroke-width="1.1"/>
<circle cx="324.8" cy="126.8" r="1.5" fill="none" stroke="#3571b4" stroke-width="1.1"/>
<circle cx="346.9" cy="113.5" r="1.5" fill="none" stroke="#3571b5" stroke-width="1.1"/>
<circle cx="312.5" cy="165.1" r="1.5" fill="none" stroke="#3672b5" stroke-width="1.1"/>
<circle cx="326.7" cy="136.9" r="1.5" fill="none" stroke="#3672b6" stroke-width="1.1"/>
<circle cx="309.0" cy="160.3" r="1.5" fill="none" stroke="#3672b6" stroke-width="1.1"/>
<circle cx="340.8" cy="118.7" r="1.5" fill="none" stroke="#3773b7" stroke-width="1.1"/>
<circle cx="372.9" cy="105.6" r="1.5" fill="none" stroke="#3773b7" stroke-width="1.1"/>
<circle cx="400.5" cy="113.1" r="1.5" fill="none" stroke="#3774b7" stroke-width="1.1"/>
<circle cx="346.9" cy="146.2" r="1.5" fill="none" stroke="#3774b7" stroke-width="1.1"/>
<circle cx="309.4" cy="142.8" r="1.5" fill="none" stroke="#3774b7" stroke-width="1.1"/>
<circle cx="333.4" cy="114.8" r="1.5" fill="none" stroke="#3774b7" stroke-width="1.1"/>
<circle cx="399.7" cy="37.4" r="1.5" fill="none" stroke="#3774b7" stroke-width="1.1"/>
<circle cx="317.1" cy="101.6" r="1.5" fill="none" stroke="#3774b7" stroke-width="1.1"/>
<circle cx="329.9" cy="118.2" r="1.5" fill="none" stroke="#3774b7" stroke-width="1.1"/>
<circle cx="443.1" cy="56.3" r="1.5" fill="none" stroke="#3774b7" stroke-width="1.1"/>
<circle cx="398.8" cy="126.8" r="1.5" fill="none" stroke="#3774b7" stroke-width="1.1"/>
<circle cx="393.7" cy="53.1" r="1.5" fill="none" stroke="#3774b7" stroke-width="1.1"/>
<circle cx="329.4" cy="132.9" r="1.5" fill="none" stroke="#3774b7" stroke-width="1.1"/>
<circle cx="352.8" cy="107.9" r="1.5" fill="none" stroke="#3774b8" stroke-width="1.1"/>
<circle cx="326.5" cy="122.5" r="1.5" fill="none" stroke="#3875b8" stroke-width="1.1"/>
<circle cx="315.6" cy="163.9" r="1.5" fill="none" stroke="#3875b8" stroke-width="1.1"/>
<circle cx="358.3" cy="126.0" r="1.5" fill="none" stroke="#3875b8" stroke-width="1.1"/>
<circle cx="292.5" cy="122.8" r="1.5" fill="none" stroke="#3875b8" stroke-width="1.1"/>
<circle cx="325.9" cy="136.1" r="1.5" fill="none" stroke="#3875b9" stroke-width="1.1"/>
<circle cx="339.1" cy="121.2" r="1.5" fill="none" stroke="#3875b9" stroke-width="1.1"/>
<circle cx="329.1" cy="125.9" r="1.5" fill="none" stroke="#3875b9" stroke-width="1.1"/>
<circle cx="318.6" cy="162.0" r="1.5" fill="none" stroke="#3875b9" stroke-width="1.1"/>
<circle cx="354.5" cy="155.6" r="1.5" fill="none" stroke="#3976b9" stroke-width="1.1"/>
<circle cx="291.3" cy="132.1" r="1.5" fill="none" stroke="#3976b9" stroke-width="1.1"/>
<circle cx="324.7" cy="137.8" r="1.5" fill="none" stroke="#3976b9" stroke-width="1.1"/>
<circle cx="356.8" cy="127.9" r="1.5" fill="none" stroke="#3977ba" stroke-width="1.1"/>
<circle cx="312.0" cy="155.6" r="1.5" fill="none" stroke="#3977ba" stroke-width="1.1"/>
<circle cx="316.9" cy="160.3" r="1.5" fill="none" stroke="#3977ba" stroke-width="1.1"/>
<circle cx="331.6" cy="129.3" r="1.5" fill="none" stroke="#3977ba" stroke-width="1.1"/>
<circle cx="446.6" cy="56.3" r="1.5" fill="none" stroke="#3977ba" stroke-width="1.1"/>
<circle cx="304.5" cy="157.0" r="1.5" fill="none" stroke="#3a78bb" stroke-width="1.1"/>
<circle cx="343.6" cy="140.1" r="1.5" fill="none" stroke="#3a78bb" stroke-width="1.1"/>
<circle cx="339.3" cy="156.5" r="1.5" fill="none" stroke="#3a78bb" stroke-width="1.1"/>
<circle cx="351.9" cy="156.8" r="1.5" fill="none" stroke="#3a78bb" stroke-width="1.1"/>
<circle cx="397.1" cy="51.7" r="1.5" fill="none" stroke="#3b79bc" stroke-width="1.1"/>
<circle cx="340.3" cy="140.9" r="1.5" fill="none" stroke="#3b7abc" stroke-width="1.1"/>
<circle cx="404.0" cy="58.5" r="1.5" fill="none" stroke="#3c7abc" stroke-width="1.1"/>
<circle cx="353.7" cy="149.7" r="1.5" fill="none" stroke="#3c7abc" stroke-width="1.1"/>
<circle cx="379.3" cy="113.9" r="1.5" fill="none" stroke="#3c7bbd" stroke-width="1.1"/>
<circle cx="314.9" cy="165.1" r="1.5" fill="none" stroke="#3d7bbd" stroke-width="1.1"/>
<circle cx="397.1" cy="113.9" r="1.5" fill="none" stroke="#3d7bbd" stroke-width="1.1"/>
<circle cx="374.2" cy="96.0" r="1.5" fill="none" stroke="#3d7bbd" stroke-width="1.1"/>
<circle cx="348.1" cy="113.4" r="1.5" fill="none" stroke="#3d7bbd" stroke-width="1.1"/>
<circle cx="342.9" cy="118.0" r="1.5" fill="none" stroke="#3f7dbe" stroke-width="1.1"/>
<circle cx="367.4" cy="79.9" r="1.5" fill="none" stroke="#3f7ebf" stroke-width="1.1"/>
<circle cx="363.1" cy="125.0" r="1.5" fill="none" stroke="#3f7ebf" stroke-width="1.1"/>
<circle cx="362.2" cy="101.1" r="1.5" fill="none" stroke="#407ebf" stroke-width="1.1"/>
<circle cx="353.0" cy="108.4" r="1.5" fill="none" stroke="#407ebf" stroke-width="1.1"/>
<circle cx="342.0" cy="138.8" r="1.5" fill="none" stroke="#407ebf" stroke-width="1.1"/>
<circle cx="348.6" cy="152.2" r="1.5" fill="none" stroke="#407ebf" stroke-width="1.1"/>
<circle cx="337.4" cy="156.8" r="1.5" fill="none" stroke="#407fbf" stroke-width="1.1"/>
<circle cx="309.4" cy="164.2" r="1.5" fill="none" stroke="#407fbf" stroke-width="1.1"/>
<circle cx="440.4" cy="56.3" r="1.5" fill="none" stroke="#4180c0" stroke-width="1.1"/>
<circle cx="329.2" cy="136.6" r="1.5" fill="none" stroke="#4180c0" stroke-width="1.1"/>
<circle cx="368.7" cy="93.5" r="1.5" fill="none" stroke="#4180c0" stroke-width="1.1"/>
<circle cx="381.9" cy="125.0" r="1.5" fill="none" stroke="#4281c0" stroke-width="1.1"/>
<circle cx="342.8" cy="137.7" r="1.5" fill="none" stroke="#4281c0" stroke-width="1.1"/>
<circle cx="376.4" cy="62.8" r="1.5" fill="none" stroke="#4281c1" stroke-width="1.1"/>
<circle cx="318.8" cy="146.2" r="1.5" fill="none" stroke="#4382c1" stroke-width="1.1"/>
<circle cx="350.3" cy="157.0" r="1.5" fill="none" stroke="#4483c2" stroke-width="1.1"/>
<circle cx="317.6" cy="157.3" r="1.5" fill="none" stroke="#4483c2" stroke-width="1.1"/>
<circle cx="377.2" cy="104.3" r="1.5" fill="none" stroke="#4484c2" stroke-width="1.1"/>
<circle cx="318.6" cy="156.8" r="1.5" fill="none" stroke="#4685c3" stroke-width="1.1"/>
<circle cx="357.4" cy="156.0" r="1.5" fill="none" stroke="#4786c4" stroke-width="1.1"/>
<circle cx="373.4" cy="102.3" r="1.5" fill="none" stroke="#4786c4" stroke-width="1.1"/>
<circle cx="332.8" cy="129.4" r="1.5" fill="none" stroke="#4787c4" stroke-width="1.1"/>
<circle cx="328.2" cy="106.2" r="1.5" fill="none" stroke="#4887c4" stroke-width="1.1"/>
<circle cx="331.8" cy="132.3" r="1.5" fill="none" stroke="#4887c4" stroke-width="1.1"/>
<circle cx="323.4" cy="154.6" r="1.5" fill="none" stroke="#4888c5" stroke-width="1.1"/>
<circle cx="372.0" cy="106.3" r="1.5" fill="none" stroke="#4a89c6" stroke-width="1.1"/>
<circle cx="357.4" cy="126.7" r="1.5" fill="none" stroke="#4a8ac6" stroke-width="1.1"/>
<circle cx="362.3" cy="124.8" r="1.5" fill="none" stroke="#4b8bc7" stroke-width="1.1"/>
<circle cx="366.5" cy="120.8" r="1.5" fill="none" stroke="#4c8cc7" stroke-width="1.1"/>
<circle cx="370.5" cy="109.0" r="1.5" fill="none" stroke="#4c8cc7" stroke-width="1.1"/>
<circle cx="314.5" cy="165.0" r="1.5" fill="none" stroke="#4d8dc8" stroke-width="1.1"/>
<circle cx="321.4" cy="159.9" r="1.5" fill="none" stroke="#4d8ec8" stroke-width="1.1"/>
<circle cx="310.3" cy="160.8" r="1.5" fill="none" stroke="#4f8fc9" stroke-width="1.1"/>
<circle cx="371.3" cy="107.8" r="1.5" fill="none" stroke="#5090ca" stroke-width="1.1"/>
<circle cx="336.8" cy="122.5" r="1.5" fill="none" stroke="#5192cb" stroke-width="1.1"/>
<circle cx="368.2" cy="110.1" r="1.5" fill="none" stroke="#5192cb" stroke-width="1.1"/>
<circle cx="326.4" cy="139.5" r="1.5" fill="none" stroke="#5293cb" stroke-width="1.1"/>
<circle cx="355.3" cy="126.0" r="1.5" fill="none" stroke="#5394cc" stroke-width="1.1"/>
<circle cx="368.0" cy="96.6" r="1.5" fill="none" stroke="#5394cc" stroke-width="1.1"/>
<circle cx="340.2" cy="117.4" r="1.5" fill="none" stroke="#5495cd" stroke-width="1.1"/>
<circle cx="349.2" cy="130.8" r="1.5" fill="none" stroke="#5596ce" stroke-width="1.1"/>
<circle cx="381.7" cy="105.8" r="1.5" fill="none" stroke="#5698cf" stroke-width="1.1"/>
<circle cx="315.3" cy="156.2" r="1.5" fill="none" stroke="#589ad0" stroke-width="1.1"/>
<circle cx="381.0" cy="108.8" r="1.5" fill="none" stroke="#599bd1" stroke-width="1.1"/>
<circle cx="326.5" cy="138.5" r="1.5" fill="none" stroke="#599bd1" stroke-width="1.1"/>
<circle cx="369.9" cy="110.5" r="1.5" fill="none" stroke="#5b9dd1" stroke-width="1.1"/>
<circle cx="322.2" cy="143.7" r="1.5" fill="none" stroke="#5b9dd2" stroke-width="1.1"/>
<circle cx="336.6" cy="144.6" r="1.5" fill="none" stroke="#5c9ed2" stroke-width="1.1"/>
<circle cx="331.6" cy="151.4" r="1.5" fill="none" stroke="#5d9fd3" stroke-width="1.1"/>
<circle cx="322.2" cy="155.6" r="1.5" fill="none" stroke="#5da0d3" stroke-width="1.1"/>
<circle cx="366.6" cy="109.6" r="1.5" fill="none" stroke="#5ea1d4" stroke-width="1.1"/>
<circle cx="335.9" cy="147.1" r="1.5" fill="none" stroke="#5fa1d4" stroke-width="1.1"/>
<circle cx="311.6" cy="162.6" r="1.5" fill="none" stroke="#5fa2d5" stroke-width="1.1"/>
<circle cx="339.3" cy="142.8" r="1.5" fill="none" stroke="#60a2d5" stroke-width="1.1"/>
<circle cx="366.6" cy="109.5" r="1.5" fill="none" stroke="#60a3d5" stroke-width="1.1"/>
<circle cx="332.5" cy="146.8" r="1.5" fill="none" stroke="#62a5d6" stroke-width="1.1"/>
<circle cx="322.3" cy="145.3" r="1.5" fill="none" stroke="#62a5d7" stroke-width="1.1"/>
<circle cx="344.5" cy="113.9" r="1.5" fill="none" stroke="#63a6d7" stroke-width="1.1"/>
<circle cx="314.8" cy="159.9" r="1.5" fill="none" stroke="#63a6d7" stroke-width="1.1"/>
<circle cx="335.6" cy="127.1" r="1.5" fill="none" stroke="#63a6d7" stroke-width="1.1"/>
<circle cx="338.5" cy="139.9" r="1.5" fill="none" stroke="#63a6d7" stroke-width="1.1"/>
<circle cx="325.3" cy="140.8" r="1.5" fill="none" stroke="#64a8d8" stroke-width="1.1"/>
<circle cx="350.5" cy="127.6" r="1.5" fill="none" stroke="#66a9d9" stroke-width="1.1"/>
<circle cx="368.8" cy="94.3" r="1.5" fill="none" stroke="#67abda" stroke-width="1.1"/>
<circle cx="349.4" cy="112.2" r="1.5" fill="none" stroke="#68acda" stroke-width="1.1"/>
<circle cx="317.1" cy="156.5" r="1.5" fill="none" stroke="#68acdb" stroke-width="1.1"/>
<circle cx="315.4" cy="159.9" r="1.5" fill="none" stroke="#68acdb" stroke-width="1.1"/>
<circle cx="320.5" cy="150.5" r="1.5" fill="none" stroke="#69addb" stroke-width="1.1"/>
<circle cx="353.7" cy="112.2" r="1.5" fill="none" stroke="#69addb" stroke-width="1.1"/>
<circle cx="322.0" cy="151.7" r="1.5" fill="none" stroke="#6aaedc" stroke-width="1.1"/>
<circle cx="371.7" cy="102.5" r="1.5" fill="none" stroke="#6cafdc" stroke-width="1.1"/>
<circle cx="337.9" cy="142.9" r="1.5" fill="none" stroke="#6dafdc" stroke-width="1.1"/>
<circle cx="324.7" cy="141.6" r="1.5" fill="none" stroke="#6db0dd" stroke-width="1.1"/>
<circle cx="313.9" cy="159.9" r="1.5" fill="none" stroke="#6eb0dd" stroke-width="1.1"/>
<circle cx="327.4" cy="156.5" r="1.5" fill="none" stroke="#6fb1dd" stroke-width="1.1"/>
<circle cx="348.6" cy="131.7" r="1.5" fill="none" stroke="#71b2dd" stroke-width="1.1"/>
<circle cx="357.4" cy="106.7" r="1.5" fill="none" stroke="#73b3de" stroke-width="1.1"/>
<circle cx="354.4" cy="110.8" r="1.5" fill="none" stroke="#74b3de" stroke-width="1.1"/>
<circle cx="324.3" cy="146.1" r="1.5" fill="none" stroke="#74b3de" stroke-width="1.1"/>
<circle cx="362.2" cy="116.5" r="1.5" fill="none" stroke="#74b4de" stroke-width="1.1"/>
<circle cx="331.9" cy="146.7" r="1.5" fill="none" stroke="#75b4de" stroke-width="1.1"/>
<circle cx="371.6" cy="107.1" r="1.5" fill="none" stroke="#75b4de" stroke-width="1.1"/>
<circle cx="317.7" cy="152.6" r="1.5" fill="none" stroke="#76b5de" stroke-width="1.1"/>
<circle cx="377.5" cy="94.2" r="1.5" fill="none" stroke="#79b6df" stroke-width="1.1"/>
<circle cx="365.2" cy="109.6" r="1.5" fill="none" stroke="#7cb8df" stroke-width="1.1"/>
<circle cx="367.4" cy="115.6" r="1.5" fill="none" stroke="#80bae0" stroke-width="1.1"/>
<circle cx="341.5" cy="122.1" r="1.5" fill="none" stroke="#80bae0" stroke-width="1.1"/>
<circle cx="342.2" cy="122.2" r="1.5" fill="none" stroke="#81bbe0" stroke-width="1.1"/>
<circle cx="341.9" cy="122.9" r="1.5" fill="none" stroke="#82bbe0" stroke-width="1.1"/>
<circle cx="347.7" cy="116.5" r="1.5" fill="none" stroke="#82bbe0" stroke-width="1.1"/>
<circle cx="341.9" cy="121.6" r="1.5" fill="none" stroke="#83bce1" stroke-width="1.1"/>
<circle cx="324.8" cy="147.9" r="1.5" fill="none" stroke="#85bde1" stroke-width="1.1"/>
<circle cx="350.3" cy="127.9" r="1.5" fill="none" stroke="#86bde1" stroke-width="1.1"/>
<circle cx="346.7" cy="115.7" r="1.5" fill="none" stroke="#86bde1" stroke-width="1.1"/>
<circle cx="347.6" cy="116.5" r="1.5" fill="none" stroke="#88bfe2" stroke-width="1.1"/>
<circle cx="354.7" cy="125.9" r="1.5" fill="none" stroke="#88bfe2" stroke-width="1.1"/>
<circle cx="354.7" cy="110.2" r="1.5" fill="none" stroke="#88bfe2" stroke-width="1.1"/>
<circle cx="373.2" cy="97.1" r="1.5" fill="none" stroke="#89bfe2" stroke-width="1.1"/>
<circle cx="331.0" cy="137.5" r="1.5" fill="none" stroke="#8ac0e2" stroke-width="1.1"/>
<circle cx="331.6" cy="136.8" r="1.5" fill="none" stroke="#8dc1e2" stroke-width="1.1"/>
<circle cx="333.4" cy="133.4" r="1.5" fill="none" stroke="#8dc2e3" stroke-width="1.1"/>
<circle cx="344.5" cy="133.4" r="1.5" fill="none" stroke="#8dc2e3" stroke-width="1.1"/>
<circle cx="339.2" cy="137.5" r="1.5" fill="none" stroke="#90c3e3" stroke-width="1.1"/>
<circle cx="369.9" cy="97.6" r="1.5" fill="none" stroke="#90c3e3" stroke-width="1.1"/>
<circle cx="323.1" cy="147.6" r="1.5" fill="none" stroke="#92c4e3" stroke-width="1.1"/>
<circle cx="369.1" cy="102.8" r="1.5" fill="none" stroke="#94c5e4" stroke-width="1.1"/>
<circle cx="358.8" cy="106.2" r="1.5" fill="none" stroke="#95c6e4" stroke-width="1.1"/>
<circle cx="372.3" cy="95.9" r="1.5" fill="none" stroke="#96c7e4" stroke-width="1.1"/>
<circle cx="367.1" cy="106.7" r="1.5" fill="none" stroke="#97c7e4" stroke-width="1.1"/>
<circle cx="348.3" cy="130.1" r="1.5" fill="none" stroke="#99c8e5" stroke-width="1.1"/>
<circle cx="328.2" cy="138.4" r="1.5" fill="none" stroke="#9bc9e5" stroke-width="1.1"/>
<circle cx="329.7" cy="147.8" r="1.5" fill="none" stroke="#9dcae5" stroke-width="1.1"/>
<circle cx="354.5" cy="125.9" r="1.5" fill="none" stroke="#9fcbe6" stroke-width="1.1"/>
<circle cx="371.4" cy="104.0" r="1.5" fill="none" stroke="#9fcbe6" stroke-width="1.1"/>
<circle cx="364.0" cy="107.1" r="1.5" fill="none" stroke="#a0cce6" stroke-width="1.1"/>
<circle cx="369.8" cy="97.6" r="1.5" fill="none" stroke="#a1cce6" stroke-width="1.1"/>
<circle cx="367.3" cy="104.0" r="1.5" fill="none" stroke="#a1cde6" stroke-width="1.1"/>
<circle cx="366.7" cy="99.2" r="1.5" fill="none" stroke="#a4cee7" stroke-width="1.1"/>
<circle cx="359.1" cy="120.9" r="1.5" fill="none" stroke="#a7cfe8" stroke-width="1.1"/>
<circle cx="337.6" cy="138.5" r="1.5" fill="none" stroke="#aed2e9" stroke-width="1.1"/>
<circle cx="359.6" cy="106.1" r="1.5" fill="none" stroke="#afd3e9" stroke-width="1.1"/>
<circle cx="357.7" cy="121.7" r="1.5" fill="none" stroke="#b5d5ea" stroke-width="1.1"/>
<circle cx="359.1" cy="117.3" r="1.5" fill="none" stroke="#b7d6eb" stroke-width="1.1"/>
<circle cx="344.9" cy="119.3" r="1.5" fill="none" stroke="#c1dbed" stroke-width="1.1"/>
<circle cx="332.0" cy="144.9" r="1.5" fill="none" stroke="#c2dbed" stroke-width="1.1"/>
<circle cx="364.2" cy="106.0" r="1.5" fill="none" stroke="#c7ddee" stroke-width="1.1"/>
<circle cx="351.3" cy="126.3" r="1.5" fill="none" stroke="#c8deef" stroke-width="1.1"/>
<circle cx="359.6" cy="110.1" r="1.5" fill="none" stroke="#c9deef" stroke-width="1.1"/>
<circle cx="341.0" cy="124.9" r="1.5" fill="none" stroke="#cadfef" stroke-width="1.1"/>
<circle cx="340.9" cy="124.3" r="1.5" fill="none" stroke="#cadfef" stroke-width="1.1"/>
<circle cx="335.7" cy="133.8" r="1.5" fill="none" stroke="#cadfef" stroke-width="1.1"/>
<circle cx="356.5" cy="108.8" r="1.5" fill="none" stroke="#cbdfef" stroke-width="1.1"/>
<circle cx="325.4" cy="144.3" r="1.5" fill="none" stroke="#cce0ef" stroke-width="1.1"/>
<circle cx="357.4" cy="118.0" r="1.5" fill="none" stroke="#cfe1f0" stroke-width="1.1"/>
<circle cx="363.0" cy="105.3" r="1.5" fill="none" stroke="#d2e3f0" stroke-width="1.1"/>
<circle cx="349.4" cy="125.0" r="1.5" fill="none" stroke="#d3e3f0" stroke-width="1.1"/>
<circle cx="366.2" cy="116.2" r="1.5" fill="none" stroke="#d3e3f0" stroke-width="1.1"/>
<circle cx="361.4" cy="108.7" r="1.5" fill="none" stroke="#d3e3f0" stroke-width="1.1"/>
<circle cx="359.7" cy="111.4" r="1.5" fill="none" stroke="#d4e3f0" stroke-width="1.1"/>
<circle cx="338.1" cy="131.6" r="1.5" fill="none" stroke="#d5e4f0" stroke-width="1.1"/>
<circle cx="335.6" cy="139.0" r="1.5" fill="none" stroke="#d6e4f0" stroke-width="1.1"/>
<circle cx="355.3" cy="110.3" r="1.5" fill="none" stroke="#d7e4f0" stroke-width="1.1"/>
<circle cx="367.3" cy="103.5" r="1.5" fill="none" stroke="#d8e5f0" stroke-width="1.1"/>
<circle cx="377.6" cy="107.1" r="1.5" fill="none" stroke="#d9e6f1" stroke-width="1.1"/>
<circle cx="343.2" cy="124.4" r="1.5" fill="none" stroke="#dbe7f1" stroke-width="1.1"/>
<circle cx="356.9" cy="120.0" r="1.5" fill="none" stroke="#dce7f1" stroke-width="1.1"/>
<circle cx="339.0" cy="136.4" r="1.5" fill="none" stroke="#dce7f1" stroke-width="1.1"/>
<circle cx="348.4" cy="127.5" r="1.5" fill="none" stroke="#dde7f1" stroke-width="1.1"/>
<circle cx="335.9" cy="127.6" r="1.5" fill="none" stroke="#dee8f1" stroke-width="1.1"/>
<circle cx="368.4" cy="101.0" r="1.5" fill="none" stroke="#dee8f1" stroke-width="1.1"/>
<circle cx="357.1" cy="115.6" r="1.5" fill="none" stroke="#dfe8f1" stroke-width="1.1"/>
<circle cx="330.8" cy="139.0" r="1.5" fill="none" stroke="#e2eaf1" stroke-width="1.1"/>
<circle cx="357.7" cy="113.6" r="1.5" fill="none" stroke="#e2eaf1" stroke-width="1.1"/>
<circle cx="353.0" cy="115.3" r="1.5" fill="none" stroke="#e8ecf1" stroke-width="1.1"/>
<circle cx="346.3" cy="125.4" r="1.5" fill="none" stroke="#e8ecf1" stroke-width="1.1"/>
<circle cx="339.3" cy="130.8" r="1.5" fill="none" stroke="#e9edf1" stroke-width="1.1"/>
<circle cx="357.0" cy="111.0" r="1.5" fill="none" stroke="#e9edf1" stroke-width="1.1"/>
<circle cx="365.7" cy="112.2" r="1.5" fill="none" stroke="#ebeef2" stroke-width="1.1"/>
<circle cx="359.4" cy="108.7" r="1.5" fill="none" stroke="#ebeef2" stroke-width="1.1"/>
<circle cx="340.2" cy="132.9" r="1.5" fill="none" stroke="#ebeef2" stroke-width="1.1"/>
<circle cx="326.5" cy="150.5" r="1.5" fill="none" stroke="#eff0f2" stroke-width="1.1"/>
<circle cx="342.7" cy="124.9" r="1.5" fill="none" stroke="#f0f0f2" stroke-width="1.1"/>
<circle cx="357.3" cy="111.5" r="1.5" fill="none" stroke="#f0f0f2" stroke-width="1.1"/>
<circle cx="342.8" cy="125.9" r="1.5" fill="none" stroke="#f2f1f2" stroke-width="1.1"/>
<circle cx="356.4" cy="114.5" r="1.5" fill="none" stroke="#f2f1f2" stroke-width="1.1"/>
<circle cx="345.8" cy="120.6" r="1.5" fill="none" stroke="#f3f2f2" stroke-width="1.1"/>
<circle cx="353.3" cy="114.2" r="1.5" fill="none" stroke="#f4f2f2" stroke-width="1.1"/>
<circle cx="355.4" cy="116.5" r="1.5" fill="none" stroke="#f4efee" stroke-width="1.1"/>
<circle cx="346.7" cy="125.7" r="1.5" fill="none" stroke="#f5edea" stroke-width="1.1"/>
<circle cx="329.5" cy="140.7" r="1.5" fill="none" stroke="#f5eae6" stroke-width="1.1"/>
<circle cx="349.1" cy="118.8" r="1.5" fill="none" stroke="#f5e8e3" stroke-width="1.1"/>
<circle cx="359.8" cy="121.6" r="1.5" fill="none" stroke="#f6e8e3" stroke-width="1.1"/>
<circle cx="331.2" cy="139.9" r="1.5" fill="none" stroke="#f6e5e0" stroke-width="1.1"/>
<circle cx="356.3" cy="119.7" r="1.5" fill="none" stroke="#f6e5df" stroke-width="1.1"/>
<circle cx="347.7" cy="120.1" r="1.5" fill="none" stroke="#f6e5de" stroke-width="1.1"/>
<circle cx="340.6" cy="132.3" r="1.5" fill="none" stroke="#f6e4de" stroke-width="1.1"/>
<circle cx="333.4" cy="140.3" r="1.5" fill="none" stroke="#f6e4dd" stroke-width="1.1"/>
<circle cx="352.8" cy="117.0" r="1.5" fill="none" stroke="#f7e1d8" stroke-width="1.1"/>
<circle cx="333.9" cy="139.7" r="1.5" fill="none" stroke="#f7dfd6" stroke-width="1.1"/>
<circle cx="332.5" cy="144.5" r="1.5" fill="none" stroke="#f7dfd6" stroke-width="1.1"/>
<circle cx="345.0" cy="130.0" r="1.5" fill="none" stroke="#f7dcd2" stroke-width="1.1"/>
<circle cx="352.6" cy="117.1" r="1.5" fill="none" stroke="#f7dbd1" stroke-width="1.1"/>
<circle cx="355.8" cy="119.6" r="1.5" fill="none" stroke="#f8d9cd" stroke-width="1.1"/>
<circle cx="350.0" cy="125.8" r="1.5" fill="none" stroke="#f8d7cb" stroke-width="1.1"/>
<circle cx="341.4" cy="126.4" r="1.5" fill="none" stroke="#f8d6c9" stroke-width="1.1"/>
<circle cx="329.9" cy="145.1" r="1.5" fill="none" stroke="#f8d5c7" stroke-width="1.1"/>
<circle cx="352.5" cy="119.0" r="1.5" fill="none" stroke="#f8d4c6" stroke-width="1.1"/>
<circle cx="346.3" cy="123.4" r="1.5" fill="none" stroke="#f8d3c5" stroke-width="1.1"/>
<circle cx="354.3" cy="121.8" r="1.5" fill="none" stroke="#f9d1c1" stroke-width="1.1"/>
<circle cx="329.9" cy="147.1" r="1.5" fill="none" stroke="#f9d0bf" stroke-width="1.1"/>
<circle cx="340.2" cy="132.6" r="1.5" fill="none" stroke="#f9cab8" stroke-width="1.1"/>
<circle cx="340.6" cy="127.5" r="1.5" fill="none" stroke="#f9c8b5" stroke-width="1.1"/>
<circle cx="354.9" cy="121.6" r="1.5" fill="none" stroke="#f9c7b3" stroke-width="1.1"/>
<circle cx="340.2" cy="126.8" r="1.5" fill="none" stroke="#fac4af" stroke-width="1.1"/>
<circle cx="342.1" cy="125.8" r="1.5" fill="none" stroke="#fac2ac" stroke-width="1.1"/>
<circle cx="328.2" cy="142.8" r="1.5" fill="none" stroke="#fac1ab" stroke-width="1.1"/>
<circle cx="342.0" cy="126.2" r="1.5" fill="none" stroke="#fac1ab" stroke-width="1.1"/>
<circle cx="344.4" cy="129.7" r="1.5" fill="none" stroke="#fabba2" stroke-width="1.1"/>
<circle cx="342.0" cy="129.0" r="1.5" fill="none" stroke="#fab69c" stroke-width="1.1"/>
<circle cx="353.8" cy="122.6" r="1.5" fill="none" stroke="#fab59b" stroke-width="1.1"/>
<circle cx="345.2" cy="125.8" r="1.5" fill="none" stroke="#fbad90" stroke-width="1.1"/>
<circle cx="341.8" cy="126.4" r="1.5" fill="none" stroke="#fbab8d" stroke-width="1.1"/>
<circle cx="354.0" cy="121.2" r="1.5" fill="none" stroke="#f99070" stroke-width="1.1"/>
<circle cx="356.7" cy="123.5" r="1.5" fill="none" stroke="#f98c6c" stroke-width="1.1"/>
<circle cx="350.3" cy="120.2" r="1.5" fill="none" stroke="#f98363" stroke-width="1.1"/>
<circle cx="343.6" cy="126.7" r="1.5" fill="none" stroke="#f98262" stroke-width="1.1"/>
<circle cx="350.9" cy="120.6" r="1.5" fill="none" stroke="#f88262" stroke-width="1.1"/>
<circle cx="349.4" cy="121.6" r="1.5" fill="none" stroke="#f26247" stroke-width="1.1"/>
<line x1="265.44" y1="198.52" x2="461.52" y2="10.12" stroke="#444" stroke-width="1.0" stroke-dasharray="3.2,2.3"/>
<line x1="309.2" y1="174.2" x2="432.5" y2="23.3" stroke="#f27272" stroke-width="1.2"/>
<rect x="265.50" y="10.10" width="202.40" height="188.30" fill="none" stroke="#111" stroke-width="1.45"/>
<line x1="265.50" y1="173.40" x2="269.00" y2="173.40" stroke="#111" stroke-width="1.05"/>
<text x="262.1" y="177.15" font-size="9.60" text-anchor="end">0.5</text>
<line x1="291.58" y1="198.40" x2="291.58" y2="194.80" stroke="#111" stroke-width="1.05"/>
<text x="291.78" y="210.2" font-size="9.60" text-anchor="middle">0.5</text>
<line x1="265.50" y1="142.00" x2="269.00" y2="142.00" stroke="#111" stroke-width="1.05"/>
<text x="262.1" y="145.75" font-size="9.60" text-anchor="end">1.0</text>
<line x1="324.26" y1="198.40" x2="324.26" y2="194.80" stroke="#111" stroke-width="1.05"/>
<text x="324.46" y="210.2" font-size="9.60" text-anchor="middle">1.0</text>
<line x1="265.50" y1="110.60" x2="269.00" y2="110.60" stroke="#111" stroke-width="1.05"/>
<text x="262.1" y="114.35" font-size="9.60" text-anchor="end">1.5</text>
<line x1="356.94" y1="198.40" x2="356.94" y2="194.80" stroke="#111" stroke-width="1.05"/>
<text x="357.14" y="210.2" font-size="9.60" text-anchor="middle">1.5</text>
<line x1="265.50" y1="79.20" x2="269.00" y2="79.20" stroke="#111" stroke-width="1.05"/>
<text x="262.1" y="82.95" font-size="9.60" text-anchor="end">2.0</text>
<line x1="389.62" y1="198.40" x2="389.62" y2="194.80" stroke="#111" stroke-width="1.05"/>
<text x="389.82" y="210.2" font-size="9.60" text-anchor="middle">2.0</text>
<line x1="265.50" y1="47.80" x2="269.00" y2="47.80" stroke="#111" stroke-width="1.05"/>
<text x="262.1" y="51.55" font-size="9.60" text-anchor="end">2.5</text>
<line x1="422.30" y1="198.40" x2="422.30" y2="194.80" stroke="#111" stroke-width="1.05"/>
<text x="422.50" y="210.2" font-size="9.60" text-anchor="middle">2.5</text>
<line x1="265.50" y1="16.40" x2="269.00" y2="16.40" stroke="#111" stroke-width="1.05"/>
<text x="262.1" y="20.15" font-size="9.60" text-anchor="end">3.0</text>
<line x1="454.98" y1="198.40" x2="454.98" y2="194.80" stroke="#111" stroke-width="1.05"/>
<text x="455.18" y="210.2" font-size="9.60" text-anchor="middle">3.0</text>
<line x1="265.50" y1="189.10" x2="267.50" y2="189.10" stroke="#111" stroke-width="0.9"/>
<line x1="275.24" y1="198.40" x2="275.24" y2="196.40" stroke="#111" stroke-width="0.9"/>
<line x1="265.50" y1="157.70" x2="267.50" y2="157.70" stroke="#111" stroke-width="0.9"/>
<line x1="307.92" y1="198.40" x2="307.92" y2="196.40" stroke="#111" stroke-width="0.9"/>
<line x1="265.50" y1="126.30" x2="267.50" y2="126.30" stroke="#111" stroke-width="0.9"/>
<line x1="340.60" y1="198.40" x2="340.60" y2="196.40" stroke="#111" stroke-width="0.9"/>
<line x1="265.50" y1="94.90" x2="267.50" y2="94.90" stroke="#111" stroke-width="0.9"/>
<line x1="373.28" y1="198.40" x2="373.28" y2="196.40" stroke="#111" stroke-width="0.9"/>
<line x1="265.50" y1="63.50" x2="267.50" y2="63.50" stroke="#111" stroke-width="0.9"/>
<line x1="405.96" y1="198.40" x2="405.96" y2="196.40" stroke="#111" stroke-width="0.9"/>
<line x1="265.50" y1="32.10" x2="267.50" y2="32.10" stroke="#111" stroke-width="0.9"/>
<line x1="438.64" y1="198.40" x2="438.64" y2="196.40" stroke="#111" stroke-width="0.9"/>
<text transform="translate(279,27.8) scale(1,1.08)" font-size="12.5">(b)</text>
<rect x="282.4" y="36.8" width="70.1" height="25.6" rx="2" fill="#fff" stroke="#bdbdbd" stroke-width="0.85"/>
<circle cx="294.5" cy="43.6" r="1.5" fill="none" stroke="#2a5a96" stroke-width="1.2"/>
<text x="307.6" y="47.2" font-size="10.2" textLength="17.96" lengthAdjust="spacingAndGlyphs">Data</text>
<line x1="283.5" y1="55.5" x2="305.5" y2="55.5" stroke="#f27272" stroke-width="1.2"/>
<text x="307.6" y="58.8" font-size="10.2" textLength="43.8" lengthAdjust="spacingAndGlyphs">Fitting data</text>
<text x="418" y="149.6" font-size="10.6" textLength="41.3" lengthAdjust="spacingAndGlyphs"><tspan font-style="italic">y</tspan> = k*<tspan font-style="italic">x</tspan>+b</text>
<text x="417.4" y="162.2" font-size="7.4" textLength="40.76" lengthAdjust="spacingAndGlyphs">k: 0.78±0.02</text>
<text x="417.4" y="173.6" font-size="7.4" textLength="40.76" lengthAdjust="spacingAndGlyphs">b: 0.39±0.03</text>
<text x="417.6" y="186.2" font-size="7.4" textLength="27.4" lengthAdjust="spacingAndGlyphs">R<tspan font-size="5.6" dy="-3.2">2</tspan><tspan dy="3.2">: 0.57</tspan></text>
<text x="348.6" y="186" font-size="10.2" textLength="48.6" lengthAdjust="spacingAndGlyphs">Points: 1472</text>
<text class="s" transform="translate(375.5,223.8) scale(1,1.08)" font-size="11.6" text-anchor="middle" textLength="84.7" lengthAdjust="spacingAndGlyphs">TI-top height (km)</text>
<text class="s" transform="translate(246.2,95) rotate(-90)" font-size="11.6" text-anchor="middle">UABL height (km)</text>
<rect x="471.5" y="9.30" width="6.2" height="188.50" fill="url(#cb)" stroke="#555" stroke-width="0.6"/>
<line x1="474.6" y1="158.40" x2="477.6" y2="158.40" stroke="#222" stroke-width="0.9"/>
<text x="479.4" y="161.10" font-size="7.6" fill="#444">1</text>
<line x1="474.6" y1="108.80" x2="477.6" y2="108.80" stroke="#222" stroke-width="0.9"/>
<text x="479.4" y="111.50" font-size="7.6" fill="#444">2</text>
<line x1="474.6" y1="59.20" x2="477.6" y2="59.20" stroke="#222" stroke-width="0.9"/>
<text x="479.4" y="61.90" font-size="7.6" fill="#444">3</text>
<line x1="474.6" y1="9.60" x2="477.6" y2="9.60" stroke="#222" stroke-width="0.9"/>
<text x="479.4" y="12.30" font-size="7.6" fill="#444">4</text>
<text class="s" transform="translate(493.4,101) rotate(-90)" font-size="10.8" text-anchor="middle">Increasing density</text>
</svg></body></html>
